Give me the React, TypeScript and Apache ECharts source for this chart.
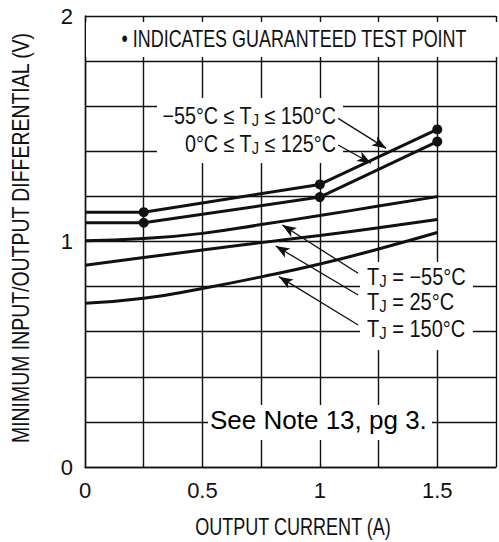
import React, { useEffect, useRef } from "react";
import * as echarts from "echarts";

// Output current (A) vs minimum input/output differential (V)
const wideRange: number[][] = [[0, 1.13], [0.25, 1.13], [1.0, 1.253], [1.5, 1.497]]; // −55°C ≤ TJ ≤ 150°C
const narrowRange: number[][] = [[0, 1.083], [0.25, 1.083], [1.0, 1.197], [1.5, 1.443]]; // 0°C ≤ TJ ≤ 125°C
const tjMinus55: number[][] = [[0, 1.003], [0.25, 1.013], [0.5, 1.036], [0.75, 1.075], [1.0, 1.115], [1.25, 1.157], [1.5, 1.199]];
const tj25: number[][] = [[0, 0.895], [0.25, 0.929], [0.5, 0.962], [0.75, 0.995], [1.0, 1.027], [1.25, 1.061], [1.5, 1.098]];
const tj150: number[][] = [[0, 0.726], [0.25, 0.748], [0.5, 0.792], [0.75, 0.843], [1.0, 0.9], [1.25, 0.967], [1.5, 1.04]];

const xTickLabels = ["0", "0.5", "1", "1.5"];
const yTickLabels = ["0", "1", "2"];

// annotation arrows in data coordinates: [from, to]
const arrows: number[][][] = [
  [[1.078, 1.546], [1.282, 1.413]],
  [[1.078, 1.428], [1.218, 1.347]],
  [[1.163, 0.859], [0.84, 1.073]],
  [[1.163, 0.763], [0.812, 0.98]],
  [[1.163, 0.63], [0.826, 0.844]],
];

const ARIAL = '"Liberation Sans", Arial, sans-serif';
const INK = "#111";

function fmt(v: number, list: string[]) {
  const s = String(Math.round(v * 1000) / 1000);
  return list.includes(s) ? s : "";
}

function withTestPoints(d: number[][]) {
  return d.map((p, i) => (i === 0 ? { value: p, symbol: "none" } : { value: p }));
}

export default function App() {
  const ref = useRef<HTMLDivElement>(null);
  useEffect(() => {
    if (!ref.current) return;
    const chart = echarts.init(ref.current, null, { renderer: "svg" });
    const sub = { fontSize: 17, fontFamily: ARIAL, fill: INK, verticalAlign: "bottom", padding: [9, 0, 0, 0] };
    const n = { fontSize: 23, fontFamily: ARIAL, fill: INK, lineHeight: 25 };
    const curve = (data: any, smooth: boolean, sym: boolean) => ({
      type: "line",
      data,
      smooth: smooth ? 0.5 : false,
      showSymbol: sym,
      symbol: "circle",
      symbolSize: 10,
      itemStyle: { color: INK },
      lineStyle: { color: INK, width: 3 },
      z: 20,
    });
    const label = (text: string, x: number, y: number, align: string, sx: number) => ({
      type: "text", z: 30, x, y, scaleX: sx,
      style: { text, rich: { n, s: sub }, align, verticalAlign: "middle" },
    });
    const option: any = {
      animation: false,
      backgroundColor: "#fff",
      textStyle: { fontFamily: ARIAL, color: INK },
      grid: { left: 85, top: 16, width: 416.5, height: 451 },
      xAxis: {
        type: "value",
        min: 0,
        max: 1.75,
        interval: 0.25,
        axisLine: { show: true, lineStyle: { color: INK, width: 1.4 } },
        axisTick: { show: false },
        axisLabel: { fontSize: 22, fontFamily: ARIAL, color: INK, margin: 12, formatter: (v: number) => fmt(v, xTickLabels) },
        splitLine: { show: true, lineStyle: { color: INK, width: 1.4 } },
      },
      yAxis: {
        type: "value",
        min: 0,
        max: 2,
        interval: 0.2,
        axisLine: { show: true, lineStyle: { color: INK, width: 1.4 } },
        axisTick: { show: false },
        axisLabel: { fontSize: 22, fontFamily: ARIAL, color: INK, margin: 12, formatter: (v: number) => fmt(v, yTickLabels) },
        splitLine: { show: true, lineStyle: { color: INK, width: 1.4 } },
      },
      series: [
        {
          ...curve(withTestPoints(wideRange), false, true),
          markLine: {
            silent: true,
            symbol: ["none", "arrow"],
            symbolSize: [8, 14],
            label: { show: false },
            lineStyle: { color: INK, width: 1.3, type: "solid" },
            data: arrows.map((a) => [{ coord: a[0] }, { coord: a[1] }]),
            z: 25,
          },
        },
        curve(withTestPoints(narrowRange), false, true),
        curve(tjMinus55, true, false),
        curve(tj25, true, false),
        curve(tj150, true, false),
      ],
      graphic: [
        { type: "rect", z: 10, shape: { x: 86, y: 22, width: 420, height: 35 }, style: { fill: "#fff" } },
        { type: "rect", z: 10, shape: { x: 157, y: 98, width: 186, height: 65 }, style: { fill: "#fff" } },
        { type: "rect", z: 10, shape: { x: 360, y: 262, width: 113, height: 88 }, style: { fill: "#fff" } },
        { type: "rect", z: 10, shape: { x: 208, y: 405, width: 224, height: 35 }, style: { fill: "#fff" } },
        {
          type: "text", z: 30, x: 294, y: 39, scaleX: 0.78,
          style: { text: "• INDICATES GUARANTEED TEST POINT", fontSize: 23, fontFamily: ARIAL, fill: INK, align: "center", verticalAlign: "middle" },
        },
        label("{n|−55°C ≤ T}{s|J}{n| ≤ 150°C}", 336, 116, "right", 0.86),
        label("{n|0°C ≤ T}{s|J}{n| ≤ 125°C}", 336, 144, "right", 0.86),
        label("{n|T}{s|J}{n| = −55°C}", 367, 277, "left", 0.87),
        label("{n|T}{s|J}{n| = 25°C}", 367, 302, "left", 0.87),
        label("{n|T}{s|J}{n| = 150°C}", 367, 329, "left", 0.87),
        {
          type: "text", z: 30, x: 210, y: 420,
          style: { text: "See Note 13, pg 3.", fontSize: 26, fontFamily: ARIAL, fill: "#000", align: "left", verticalAlign: "middle" },
        },
        {
          type: "text", z: 30, x: 293, y: 527, scaleX: 0.785,
          style: { text: "OUTPUT CURRENT (A)", fontSize: 23, fontFamily: ARIAL, fill: INK, align: "center", verticalAlign: "middle" },
        },
        {
          type: "text", z: 30, x: 21, y: 238, rotation: Math.PI / 2, scaleX: 0.845,
          style: { text: "MINIMUM INPUT/OUTPUT DIFFERENTIAL (V)", fontSize: 23, fontFamily: ARIAL, fill: INK, align: "center", verticalAlign: "middle" },
        },
      ],
    };
    chart.setOption(option);
    return () => chart.dispose();
  }, []);
  return <div ref={ref} style={{ position: "absolute", left: 0, top: 0, width: 499, height: 542 }} />;
}
